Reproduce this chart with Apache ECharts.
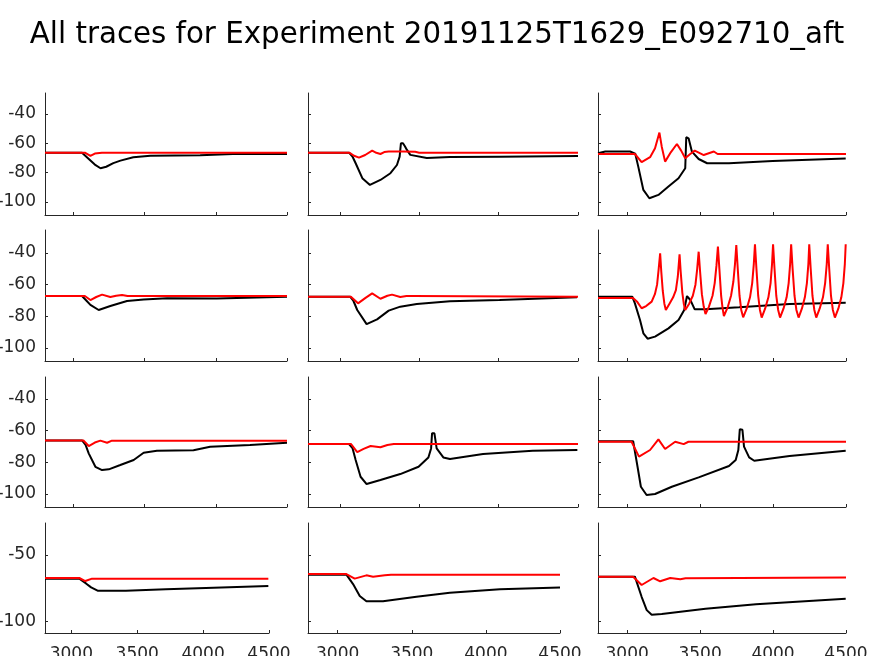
<!DOCTYPE html>
<html lang="en">
<head>
    <meta charset="UTF-8">
    <title>All traces</title>
    <script src="https://cdn.jsdelivr.net/npm/echarts@6.0.0/dist/echarts.min.js"></script>
    <style>
        html, body { margin: 0; padding: 0; background: #fff; }
        #chart { width: 874px; height: 656px; }
    </style>
</head>
<body>
    <div id="chart"></div>
    <script>
        // tick labels
        let xTicks = [3000, 3500, 4000, 4500];
        let yTicks = [-100, -80, -60, -40];
        let yTicksLast = [-100, -50];

        // row 1
        let blk11 = [[2800,-66.4],[3060,-66.4],[3100,-70],[3150,-74.5],[3190,-77],[3230,-76],[3280,-73.5],[3330,-71.8],[3420,-69.5],[3540,-68.5],[3890,-68.2],[4120,-67.3],[4500,-67.3]];
        let red11 = [[2800,-66.4],[3080,-66.4],[3119,-68.6],[3150,-67],[3200,-66.4],[3250,-66.4],[3260,-67],[3270,-66.4],[4500,-66.4]];
        let blk12 = [[2800,-66.4],[3058,-66.4],[3080,-69],[3100,-73.6],[3142,-83.8],[3190,-88.4],[3256,-85],[3319,-80.4],[3360,-74.8],[3377,-69.1],[3385,-60],[3398,-60],[3410,-62],[3423,-64.5],[3444,-67.9],[3548,-70],[3694,-69.4],[4006,-69.1],[4500,-68.6]];
        let red12 = [[2800,-66.4],[3060,-66.4],[3090,-68.5],[3121,-69.8],[3160,-68],[3204,-65],[3230,-66.5],[3256,-67.3],[3280,-66],[3308,-65.6],[3400,-65.6],[3475,-65.8],[3500,-66.4],[4500,-66.4]];
        let blk13 = [[2800,-66.8],[2850,-65.6],[3020,-65.6],[3055,-67],[3076,-75.9],[3111,-91.8],[3152,-97.5],[3214,-95.2],[3283,-89.5],[3352,-83.8],[3398,-77],[3405,-55.9],[3421,-56.6],[3444,-65.7],[3490,-70.7],[3548,-73.6],[3698,-73.6],[3997,-72],[4498,-70.4]];
        let red13 = [[2800,-67.3],[3053,-67.3],[3099,-72.9],[3157,-69.5],[3191,-63.4],[3221,-52.7],[3237,-62.3],[3260,-72.5],[3300,-66],[3341,-60.5],[3370,-65],[3398,-70.2],[3430,-67.5],[3463,-65],[3525,-68],[3594,-65.6],[3620,-67.3],[4500,-67.3]];

        // row 2
        let blk21 = [[2800,-67.2],[3060,-67.2],[3090,-70],[3119,-72.8],[3177,-76],[3259,-73.5],[3376,-70.3],[3493,-69.3],[3657,-68.6],[4007,-68.8],[4500,-67.6]];
        let red21 = [[2800,-67.2],[3080,-67.2],[3119,-69.7],[3160,-67.8],[3201,-66.3],[3259,-67.8],[3300,-67],[3341,-66.5],[3380,-67.2],[4500,-67.2]];
        let blk22 = [[2800,-67.6],[3065,-67.6],[3085,-70],[3110,-76],[3169,-84.9],[3235,-81.9],[3308,-76.4],[3381,-73.9],[3485,-72.2],[3694,-70.5],[4006,-69.7],[4494,-68]];
        let red22 = [[2800,-67.6],[3070,-67.6],[3115,-71.8],[3160,-68.5],[3204,-65.5],[3256,-68.9],[3300,-67],[3329,-66.3],[3381,-67.8],[3420,-67.2],[3464,-67.2],[4500,-67.6]];
        let blk23 = [[2800,-67.6],[3035,-67.6],[3053,-71.8],[3088,-82.3],[3111,-90.7],[3140,-94.1],[3191,-92.8],[3283,-87.6],[3352,-82.3],[3391,-76],[3410,-67.2],[3417,-67.2],[3433,-69.7],[3463,-75.6],[3537,-75.6],[3767,-74.3],[4113,-72.2],[4498,-71.4]];
        let red23 = [[2800,-68.4],[3040,-68.4],[3070,-71],[3099,-74.9],[3130,-73.5],[3168,-70.7],[3190,-66],[3205,-60],[3216,-50],[3226,-40.2],[3234,-52],[3244,-64],[3255,-72],[3265,-76],
            [3290,-72],[3315,-68],[3334,-63.5],[3347,-55],[3359,-40.8],[3367,-52],[3378,-65],[3388,-72],[3398,-76],
            [3425,-72],[3450,-67],[3468,-60],[3480,-50],[3490,-39.2],[3500,-52],[3512,-66],[3525,-74],[3537,-78.5],
            [3560,-74],[3585,-67],[3600,-59],[3612,-48],[3622,-36],[3632,-50],[3644,-67],[3654,-75],[3663,-79.8],
            [3690,-74],[3712,-67],[3728,-58],[3739,-47],[3748,-35],[3758,-50],[3770,-67],[3782,-76],[3795,-80.6],
            [3820,-75],[3842,-68],[3857,-59],[3868,-47],[3876,-34.5],[3886,-50],[3898,-67],[3910,-76],[3922,-80.8],
            [3946,-75],[3968,-68],[3983,-59],[3993,-47],[4000,-34.5],[4010,-50],[4022,-67],[4035,-76],[4048,-80.8],
            [4072,-75],[4093,-68],[4107,-59],[4117,-47],[4124,-34.5],[4134,-50],[4147,-67],[4160,-76],[4175,-80.8],
            [4198,-75],[4218,-68],[4232,-59],[4242,-47],[4248,-34.5],[4258,-50],[4270,-67],[4283,-76],[4296,-80.8],
            [4320,-75],[4342,-68],[4357,-59],[4368,-47],[4375,-34.5],[4385,-50],[4397,-67],[4410,-76],[4424,-80.8],
            [4448,-75],[4468,-68],[4482,-59],[4492,-47],[4498,-34.5]];

        // row 3
        let blk31 = [[2800,-66.2],[3060,-66.2],[3085,-69],[3107,-74.3],[3154,-82.8],[3201,-84.9],[3248,-84.4],[3329,-81.7],[3423,-78.5],[3493,-73.9],[3586,-72.7],[3843,-72.4],[3960,-70.1],[4240,-69],[4500,-67.6]];
        let red31 = [[2800,-66.2],[3070,-66.2],[3107,-69.7],[3150,-67.5],[3189,-66.3],[3236,-67.6],[3270,-66.3],[4500,-66.3]];
        let blk32 = [[2800,-68.4],[3058,-68.4],[3080,-71],[3100,-78.5],[3131,-89.1],[3169,-93.7],[3256,-91.2],[3381,-87.4],[3496,-82.8],[3558,-76.9],[3575,-71.2],[3581,-61.7],[3596,-61.7],[3610,-71.2],[3652,-76.9],[3694,-77.9],[3902,-74.7],[4215,-72.7],[4496,-72.2]];
        let red32 = [[2800,-68.4],[3070,-68.4],[3110,-73.5],[3150,-71.5],[3194,-69.7],[3256,-70.5],[3300,-69],[3340,-68.4],[4500,-68.4]];
        let blk33 = [[2800,-66.7],[3041,-66.7],[3071,-82.8],[3094,-95.4],[3133,-100.6],[3191,-100],[3306,-95.4],[3490,-89.5],[3698,-82.3],[3744,-78.5],[3762,-72.2],[3772,-59.1],[3790,-59.4],[3801,-70.1],[3836,-76.9],[3871,-79],[4113,-76],[4498,-72.7]];
        let red33 = [[2800,-67],[3030,-67],[3081,-76.4],[3157,-72.2],[3214,-65.5],[3260,-71.6],[3329,-67],[3387,-68.5],[3420,-67],[4500,-67]];

        // row 4
        let blk41 = [[2800,-67.9],[3061,-67.9],[3111,-71.5],[3150,-74.5],[3199,-77],[3414,-77],[3717,-76],[4020,-75],[4495,-73.5]];
        let red41 = [[2800,-67.4],[3060,-67.4],[3106,-69.7],[3157,-67.9],[4495,-67.9]];
        let blk42 = [[2800,-64.9],[3059,-64.9],[3104,-72],[3149,-81],[3194,-85],[3306,-85],[3532,-81.6],[3757,-78.5],[4095,-76],[4500,-74.5]];
        let red42 = [[2800,-64.4],[3059,-64.4],[3115,-67.9],[3194,-65.4],[3239,-66.4],[3318,-65.4],[3360,-64.9],[4500,-64.9]];
        let blk43 = [[2800,-66.4],[3053,-66.4],[3099,-81.6],[3134,-91.7],[3168,-95.2],[3237,-94.7],[3537,-90.7],[3883,-87.3],[4498,-83.1]];
        let red43 = [[2800,-66.4],[3041,-66.4],[3099,-72.7],[3180,-67.4],[3226,-69.9],[3295,-67.4],[3364,-68.4],[3400,-67.6],[4500,-67]];

        let panels = [
            [blk11, red11], [blk12, red12], [blk13, red13],
            [blk21, red21], [blk22, red22], [blk23, red23],
            [blk31, red31], [blk32, red32], [blk33, red33],
            [blk41, red41], [blk42, red42], [blk43, red43]
        ];

        // layout of the subplots (px)
        let rowTop = [93, 230, 377, 523];
        let rowHeight = [122, 131, 130, 110];
        let rowYLim = [[-108.9, -25.7], [-108.2, -25.5], [-108.2, -26.1], [-109, -25.8]];
        let colLeft = [45, 308, 598];
        let colWidth = [[242, 270, 248], [242, 270, 248], [242, 270, 248], [224, 252, 248]];

        let axisColor = '#262626';
        let fontFamily = 'DejaVu Sans';

        let grids = [], xAxes = [], yAxes = [], series = [];
        for (let r = 0; r < 4; r++) {
            for (let c = 0; c < 3; c++) {
                let i = r * 3 + c;
                grids.push({
                    left: colLeft[c], top: rowTop[r],
                    width: colWidth[r][c], height: rowHeight[r],
                    containLabel: false, outerBoundsMode: 'none'
                });
                xAxes.push({
                    type: 'value', gridIndex: i, min: 2800, max: 4500,
                    axisLine: { show: true, lineStyle: { color: axisColor, width: 1 } },
                    axisTick: { show: true, inside: true, length: 3, customValues: xTicks, lineStyle: { color: axisColor } },
                    axisLabel: {
                        show: r === 3, customValues: xTicks, margin: 13,
                        color: axisColor, fontSize: 17, fontFamily: fontFamily,
                        formatter: function (v) { return String(v); }
                    },
                    splitLine: { show: false }
                });
                let yt = r === 3 ? yTicksLast : yTicks;
                yAxes.push({
                    type: 'value', gridIndex: i, min: rowYLim[r][0], max: rowYLim[r][1],
                    axisLine: { show: true, lineStyle: { color: axisColor, width: 1 } },
                    axisTick: { show: true, inside: true, length: 3, customValues: yt, lineStyle: { color: axisColor } },
                    axisLabel: {
                        show: c === 0, customValues: yt, margin: 9,
                        color: axisColor, fontSize: 17, fontFamily: fontFamily,
                        formatter: function (v) { return String(v); }
                    },
                    splitLine: { show: false }
                });
                series.push({
                    type: 'line', xAxisIndex: i, yAxisIndex: i, data: panels[i][0],
                    showSymbol: false, lineStyle: { color: '#000000', width: 2 }, z: 2
                });
                series.push({
                    type: 'line', xAxisIndex: i, yAxisIndex: i, data: panels[i][1],
                    showSymbol: false, lineStyle: { color: '#ff0000', width: 2 }, z: 3
                });
            }
        }

        let myChart = echarts.init(document.getElementById('chart'));
        myChart.setOption({
            animation: false,
            backgroundColor: '#ffffff',
            title: {
                text: 'All traces for Experiment 20191125T1629_E092710_aft',
                left: 'center', top: 16,
                textStyle: { fontSize: 29.3, fontWeight: 'normal', color: '#000000', fontFamily: fontFamily }
            },
            grid: grids,
            xAxis: xAxes,
            yAxis: yAxes,
            series: series
        });
    </script>
</body>
</html>
